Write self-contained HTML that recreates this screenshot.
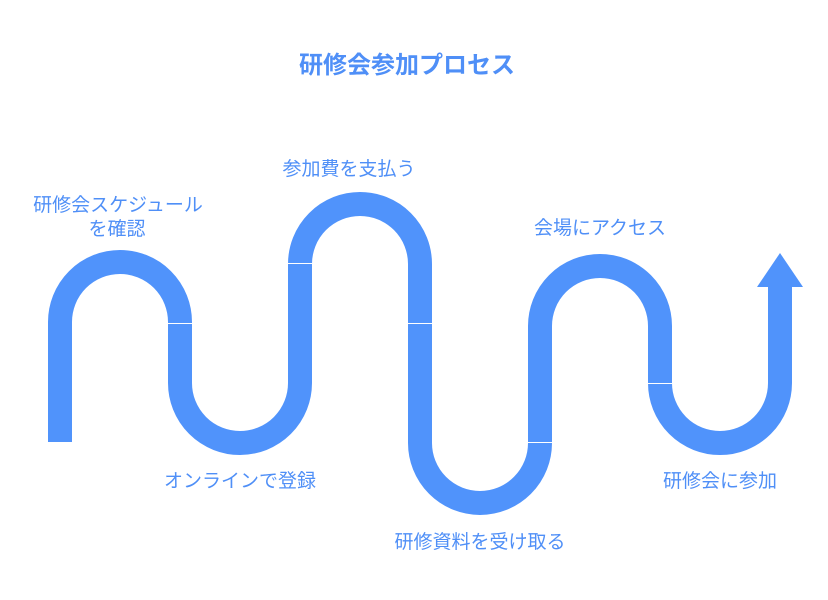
<!DOCTYPE html>
<html><head><meta charset="utf-8"><style>
html,body{margin:0;padding:0;background:#fff;width:828px;height:600px;overflow:hidden}
svg text{font-family:"Liberation Sans","Noto Sans CJK JP",sans-serif;fill:#4f8ff7}
</style></head><body>
<svg width="828" height="600" viewBox="0 0 828 600" xmlns="http://www.w3.org/2000/svg">
<path d="M60 442 V322 A60 60 0 0 1 180 322 V383 A60 60 0 0 0 300 383 V264 A60 60 0 0 1 420 264 V443 A60 60 0 0 0 540 443 V326 A60 60 0 0 1 660 326 V383 A60 60 0 0 0 780 383 V285" fill="none" stroke="#5093fb" stroke-width="24"/>
<polygon points="780,253 803,287 757,287" fill="#5093fb"/>
<g stroke="#fff" stroke-width="1">
<line x1="168" y1="323.5" x2="192" y2="323.5"/>
<line x1="288" y1="263.5" x2="312" y2="263.5"/>
<line x1="408" y1="323.5" x2="432" y2="323.5"/>
<line x1="528" y1="442.5" x2="552" y2="442.5"/>
<line x1="648" y1="383.5" x2="672" y2="383.5"/>
</g>
<text x="407" y="73" font-size="24" font-weight="bold" text-anchor="middle">研修会参加プロセス</text>
<g font-size="19" text-anchor="middle">
<text x="118" y="211">研修会スケジュール</text>
<text x="117" y="235">を確認</text>
<text x="349" y="175">参加費を支払う</text>
<text x="600" y="234">会場にアクセス</text>
<text x="240" y="487">オンラインで登録</text>
<text x="480" y="548">研修資料を受け取る</text>
<text x="720" y="487">研修会に参加</text>
</g>
</svg>
</body></html>
